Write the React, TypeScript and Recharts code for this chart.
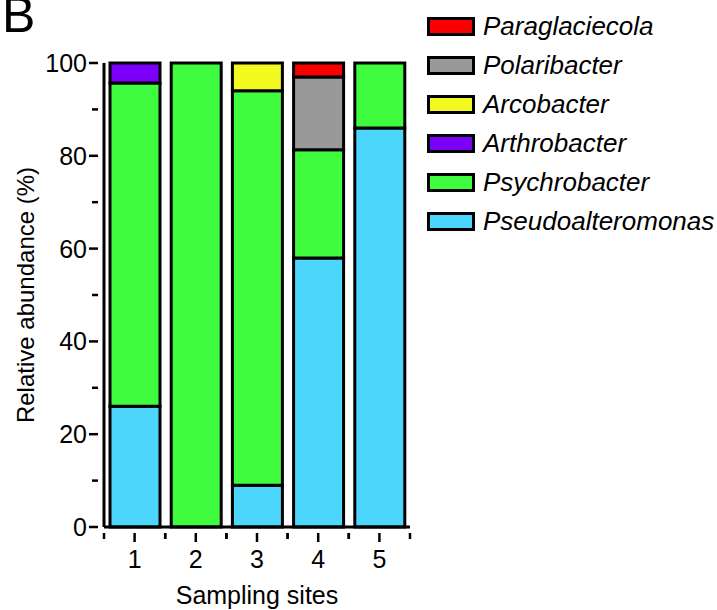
import React from 'react';
import { BarChart, Bar, XAxis, YAxis, Label } from 'recharts';

const sites = ['1', '2', '3', '4', '5'];
const pseudoalteromonas = [26, 0, 9, 58, 86];
const psychrobacter = [69.7, 100, 85, 23.3, 14];
const arthrobacter = [4.3, 0, 0, 0, 0];
const arcobacter = [0, 0, 6, 0, 0];
const polaribacter = [0, 0, 0, 15.7, 0];
const paraglaciecola = [0, 0, 0, 3, 0];
const yTicks = [0, 10, 20, 30, 40, 50, 60, 70, 80, 90, 100];

const series = [
  { key: 'Pseudoalteromonas', values: pseudoalteromonas, color: '#4dd6fc' },
  { key: 'Psychrobacter', values: psychrobacter, color: '#3ffc3f' },
  { key: 'Arthrobacter', values: arthrobacter, color: '#7a00fa' },
  { key: 'Arcobacter', values: arcobacter, color: '#f2fa1f' },
  { key: 'Polaribacter', values: polaribacter, color: '#999999' },
  { key: 'Paraglaciecola', values: paraglaciecola, color: '#fa0000' },
];

const data = sites.map((site, i) => {
  const row: any = { site };
  series.forEach((s) => (row[s.key] = s.values[i]));
  return row;
});

const FONT = '"Liberation Sans", Arial, sans-serif';
const W = 717;
const H = 610;
const margin = { top: 63, right: 307, bottom: 0, left: 0 };
const Y_W = 104;
const X_H = 83;
const halfBand = (W - margin.right - margin.left - Y_W) / sites.length / 2;

const YTick = (props: any) => {
  const { x, y, payload } = props;
  const major = payload.value % 20 === 0;
  return (
    <g>
      <line x1={x - (major ? 9 : 6)} x2={x} y1={y} y2={y} stroke="#000" strokeWidth={2.5} />
      {major && (
        <text x={x - 11} y={y} textAnchor="end" dominantBaseline="central" fontSize={25} fontFamily={FONT} fill="#000">
          {payload.value}
        </text>
      )}
    </g>
  );
};

const XTick = (props: any) => {
  const { x, y, payload } = props;
  return (
    <g>
      <line x1={x} x2={x} y1={y} y2={y + 9} stroke="#000" strokeWidth={2.5} />
      <line x1={x - halfBand} x2={x - halfBand} y1={y} y2={y + 6} stroke="#000" strokeWidth={2.5} />
      <line x1={x + halfBand} x2={x + halfBand} y1={y} y2={y + 6} stroke="#000" strokeWidth={2.5} />
      <text x={x} y={y + 26} textAnchor="middle" dominantBaseline="central" fontSize={25} fontFamily={FONT} fill="#000">
        {payload.value}
      </text>
    </g>
  );
};

const LegendBox = () => (
  <div style={{ position: 'absolute', left: 427, top: 7, fontFamily: FONT }}>
    {[...series].reverse().map((s) => (
      <div key={s.key} style={{ display: 'flex', alignItems: 'center', height: 39 }}>
        <span
          style={{
            display: 'inline-block',
            width: 42,
            height: 13,
            background: s.color,
            border: '3px solid #000',
            marginRight: 8,
          }}
        />
        <span style={{ fontSize: 26, fontStyle: 'italic', color: '#000', whiteSpace: 'nowrap' }}>{s.key}</span>
      </div>
    ))}
  </div>
);

export default function App() {
  return (
    <div style={{ position: 'absolute', left: 0, top: 0, width: W, height: H, fontFamily: FONT, background: '#fff', overflow: 'hidden' }}>
      <div style={{ position: 'absolute', left: 2, top: -10, fontSize: 50, lineHeight: '50px', color: '#000' }}>B</div>
      <LegendBox />
      <BarChart width={W} height={H} data={data} margin={margin} barSize={50}>
        <XAxis
          dataKey="site"
          height={X_H}
          interval={0}
          tickLine={false}
          tickMargin={0}
          axisLine={{ stroke: '#000', strokeWidth: 3 }}
          tick={XTick}
        >
          <Label
            content={({ viewBox }: any) => (
              <text
                x={viewBox.x + viewBox.width / 2}
                y={viewBox.y + 68}
                textAnchor="middle"
                dominantBaseline="central"
                fontSize={25}
                fontFamily={FONT}
                fill="#000"
              >
                Sampling sites
              </text>
            )}
          />
        </XAxis>
        <YAxis
          width={Y_W}
          domain={[0, 100]}
          ticks={yTicks}
          interval={0}
          tickLine={false}
          tickMargin={0}
          axisLine={{ stroke: '#000', strokeWidth: 3 }}
          tick={YTick}
        >
          <Label
            content={({ viewBox }: any) => {
              const cx = viewBox.x + 25;
              const cy = viewBox.y + viewBox.height / 2;
              return (
                <text
                  x={cx}
                  y={cy}
                  transform={`rotate(-90 ${cx} ${cy})`}
                  textAnchor="middle"
                  dominantBaseline="central"
                  fontSize={24}
                  fontFamily={FONT}
                  fill="#000"
                >
                  Relative abundance (%)
                </text>
              );
            }}
          />
        </YAxis>
        {series.map((s) => (
          <Bar
            key={s.key}
            dataKey={s.key}
            name={s.key}
            stackId="a"
            fill={s.color}
            stroke="#000"
            strokeWidth={3}
            isAnimationActive={false}
          />
        ))}
      </BarChart>
    </div>
  );
}
